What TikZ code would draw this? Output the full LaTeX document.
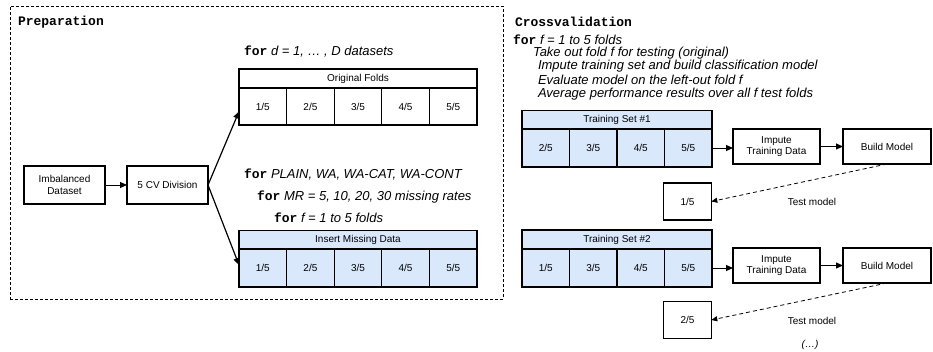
\documentclass[tikz,border=0pt]{standalone}
\usepackage{fontspec}
\setsansfont{Liberation Sans}
\setmonofont{Liberation Mono}
\usetikzlibrary{arrows.meta}
\definecolor{lblue}{HTML}{DAE8FC}
\newcommand\kwfor{{\ttfamily\bfseries\upshape for}}
\begin{document}
\begin{tikzpicture}[x=1pt,y=-1pt,
  every node/.style={inner sep=0pt, outer sep=0pt},
  lab/.style={font=\sffamily\fontsize{10}{11.5}\selectfont, align=center},
  box/.style={lab, draw, line width=1.2pt, minimum width=81pt, minimum height=38pt},
  sbox/.style={lab, draw, line width=1.2pt, minimum width=87pt, minimum height=35pt},
  cellbox/.style={lab, draw, line width=1.2pt, minimum width=47.6pt, minimum height=37pt},
  hdr/.style={lab, draw, line width=1.2pt, minimum width=238pt, minimum height=19pt},
  tcell/.style={cellbox, fill=lblue, minimum width=47.5pt, minimum height=38pt},
  thdr/.style={hdr, fill=lblue, minimum width=190pt},
  head/.style={anchor=west, font=\ttfamily\bfseries\fontsize{13}{15}\selectfont},
  looptxt/.style={anchor=west, font=\sffamily\itshape\fontsize{13}{15}\selectfont},
  arr/.style={-{Triangle[length=7pt,width=6pt]}, line width=1pt},
  darr/.style={-{Triangle[length=6pt,width=5pt]}, line width=0.8pt, dash pattern=on 4pt off 3pt},
  frame/.style={draw, line width=0.7pt, dash pattern=on 3pt off 2pt, minimum width=493pt, minimum height=293pt}
]
\useasboundingbox (0,0) rectangle (933,351);

% ---------- Preparation ----------
\node[frame] (prep) at (256.5,152.5) {};
\node[head] (preplab) at (18,22) {Preparation};

\node[box] (imb) at (64.5,185) {Imbalanced\\Dataset};
\node[box] (cv) at (167.5,185) {5 CV Division};

\node[looptxt] (ld) at (244,52) {\kwfor\ d = 1, … , D datasets};
\node[hdr] (ofh) at (358,78.5) {Original Folds};
\node[cellbox] (of1) at (262.8,106.5) {1/5};
\node[cellbox] (of2) at (310.4,106.5) {2/5};
\node[cellbox] (of3) at (358.0,106.5) {3/5};
\node[cellbox] (of4) at (405.6,106.5) {4/5};
\node[cellbox] (of5) at (453.2,106.5) {5/5};

\node[looptxt] (lp) at (244,175) {\kwfor\ PLAIN, WA, WA-CAT, WA-CONT};
\node[looptxt] (lm) at (257,197) {\kwfor\ MR = 5, 10, 20, 30 missing rates};
\node[looptxt] (lf) at (274,218) {\kwfor\ f = 1 to 5 folds};
\node[hdr, fill=lblue] (imh) at (358,240) {Insert Missing Data};
\node[cellbox, fill=lblue, minimum height=38pt] (im1) at (262.8,268) {1/5};
\node[cellbox, fill=lblue, minimum height=38pt] (im2) at (310.4,268) {2/5};
\node[cellbox, fill=lblue, minimum height=38pt] (im3) at (358.0,268) {3/5};
\node[cellbox, fill=lblue, minimum height=38pt] (im4) at (405.6,268) {4/5};
\node[cellbox, fill=lblue, minimum height=38pt] (im5) at (453.2,268) {5/5};

\draw[arr] (imb) -- (cv);
\draw[arr, line width=1.2pt] (cv.east) -- ([yshift=-5pt]of1.west);
\draw[arr, line width=1.2pt] (cv.east) -- ([yshift=3pt]im1.west);

% ---------- Crossvalidation ----------
\node[head] (cvlab) at (515,22) {Crossvalidation};
\node[looptxt] (c0) at (513,40) {\kwfor\ f = 1 to 5 folds};
\node[looptxt] (c1) at (533,53) {Take out fold f for testing (original)};
\node[looptxt] (c2) at (538,66.5) {Impute training set and build classification model};
\node[looptxt] (c3) at (538,80) {Evaluate model on the left-out fold f};
\node[looptxt] (c4) at (538,94) {Average performance results over all f test folds};

% Training set 1
\node[thdr] (t1h) at (617,120) {Training Set \#1};
\node[tcell] (t1a) at (545.75,148) {2/5};
\node[tcell] (t1b) at (593.25,148) {3/5};
\node[tcell] (t1c) at (640.75,148) {4/5};
\node[tcell] (t1d) at (688.25,148) {5/5};
\node[sbox] (imp1) at (776.5,146.5) {Impute\\Training Data};
\node[sbox, minimum width=88pt] (bm1) at (887,146.5) {Build Model};
\node[cellbox] (tf1) at (687.5,201.5) {1/5};
\node[lab] (tm1) at (812,202) {Test model};

\draw[arr] (t1d.east) -- (t1d.east -| imp1.west);
\draw[arr] (imp1) -- (bm1);
\draw[darr] (bm1.south) -- (tf1.east);

% Training set 2
\node[thdr] (t2h) at (617,239.5) {Training Set \#2};
\node[tcell] (t2a) at (545.75,268) {1/5};
\node[tcell] (t2b) at (593.25,268) {3/5};
\node[tcell] (t2c) at (640.75,268) {4/5};
\node[tcell] (t2d) at (688.25,268) {5/5};
\node[sbox] (imp2) at (776.5,265.5) {Impute\\Training Data};
\node[sbox, minimum width=88pt] (bm2) at (887,265.5) {Build Model};
\node[cellbox] (tf2) at (687.5,320) {2/5};
\node[lab] (tm2) at (812,321) {Test model};
\node[lab, font=\sffamily\itshape\fontsize{10}{11.5}\selectfont] (etc) at (810,345) {(…)};

\draw[arr] (t2d.east) -- (t2d.east -| imp2.west);
\draw[arr] (imp2) -- (bm2);
\draw[darr] (bm2.south) -- (tf2.east);
\end{tikzpicture}
\end{document}
